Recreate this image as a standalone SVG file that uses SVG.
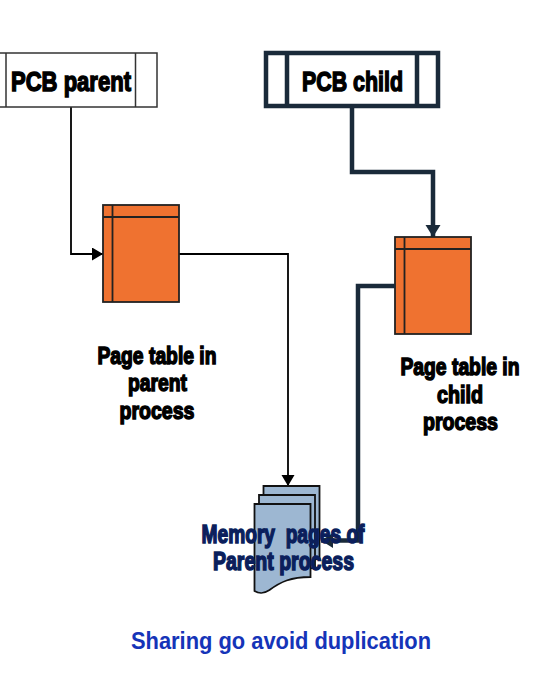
<svg xmlns="http://www.w3.org/2000/svg" width="536" height="682" viewBox="0 0 536 682">
<defs>
<marker id="a" markerUnits="userSpaceOnUse" markerWidth="12" markerHeight="14" refX="11" refY="6.500" orient="auto"><path d="M0 0L11 6.500L0 13Z" fill="#000"/></marker>
<marker id="b" markerUnits="userSpaceOnUse" markerWidth="13" markerHeight="16" refX="12" refY="7.500" orient="auto"><path d="M0 0L12 7.500L0 15Z" fill="#1a2a3a"/></marker>
<path id="page" d="M0 0H56V73C36 73 26 78 15 86C9 90 5 90 0 87Z"/>
</defs>
<style>
.lbl{font-family:"Liberation Sans",Arial,sans-serif;font-weight:700;white-space:pre;stroke-width:1.500px}
.k{fill:#000;stroke:#000;font-size:24px}
.m{fill:#0b1f5c;stroke:#0b1f5c;font-size:25px}
.h{font-size:28px}
.pb{fill:#fff;stroke:#333;stroke-width:1.500}
.cb{fill:#fff;stroke:#1a2a3a;stroke-width:4.500}
.pt{fill:#ef7230;stroke:#222;stroke-width:1.800}
.pg{fill:#9db7d2;stroke:#111;stroke-width:1.800}
.thin{fill:none;stroke:#000;stroke-width:1.800}
.thick{fill:none;stroke:#1a2a3a;stroke-width:4.500}
</style>
<g id="connectors">
<path class="thin" d="M71 107V254H103" marker-end="url(#a)"/>
<path class="thin" d="M179 254H288V486" marker-end="url(#a)"/>
<path class="thick" d="M352 106V172H433V237" marker-end="url(#b)"/>
</g>
<g id="pcb-parent">
<rect class="pb" x="-20" y="53" width="177" height="54"/>
<path class="pb" d="M6 53V107M135.500 53V107"/>
<text class="lbl k h" x="11" y="90.500" textLength="120" lengthAdjust="spacingAndGlyphs">PCB parent</text>
</g>
<g id="pcb-child">
<rect class="cb" x="266" y="53" width="172" height="53"/>
<path class="cb" d="M287 53V106M417 53V106"/>
<text class="lbl k h" x="302" y="90.500" textLength="101" lengthAdjust="spacingAndGlyphs">PCB child</text>
</g>
<g id="page-table-parent">
<rect class="pt" x="103" y="205" width="76" height="97"/>
<path class="pt" d="M103 217H179M112.500 205V302"/>
<text class="lbl k" transform="translate(97.500 364) scale(.804 1)">Page table in</text>
<text class="lbl k" x="128" y="391" textLength="59" lengthAdjust="spacingAndGlyphs">parent</text>
<text class="lbl k" x="119.500" y="419" textLength="75" lengthAdjust="spacingAndGlyphs">process</text>
</g>
<g id="page-table-child">
<rect class="pt" x="395" y="237" width="76" height="97"/>
<path class="pt" d="M395 249H471M404.500 237V334"/>
<text class="lbl k" transform="translate(400.500 375) scale(.804 1)">Page table in</text>
<text class="lbl k" x="437" y="403" textLength="46" lengthAdjust="spacingAndGlyphs">child</text>
<text class="lbl k" x="423" y="429.500" textLength="75" lengthAdjust="spacingAndGlyphs">process</text>
</g>
<g id="memory-pages">
<use href="#page" class="pg" x="263.500" y="486"/>
<use href="#page" class="pg" x="259" y="495"/>
<use href="#page" class="pg" x="254.500" y="504"/>
</g>
<g id="connector-child-memory">
<path class="thick" d="M395 286H358V540.500H321" marker-end="url(#b)"/>
</g>
<g id="memory-label">
<text class="lbl m" x="201.500" y="543" textLength="163" lengthAdjust="spacingAndGlyphs">Memory  pages of</text>
<text class="lbl m" x="213" y="570" textLength="141" lengthAdjust="spacingAndGlyphs">Parent process</text>
</g>
<text id="caption" x="131" y="649" style="font-family:'Liberation Sans',Arial,sans-serif;font-weight:700;font-size:24px;fill:#1534b8" textLength="300" lengthAdjust="spacingAndGlyphs">Sharing go avoid duplication</text>
</svg>
